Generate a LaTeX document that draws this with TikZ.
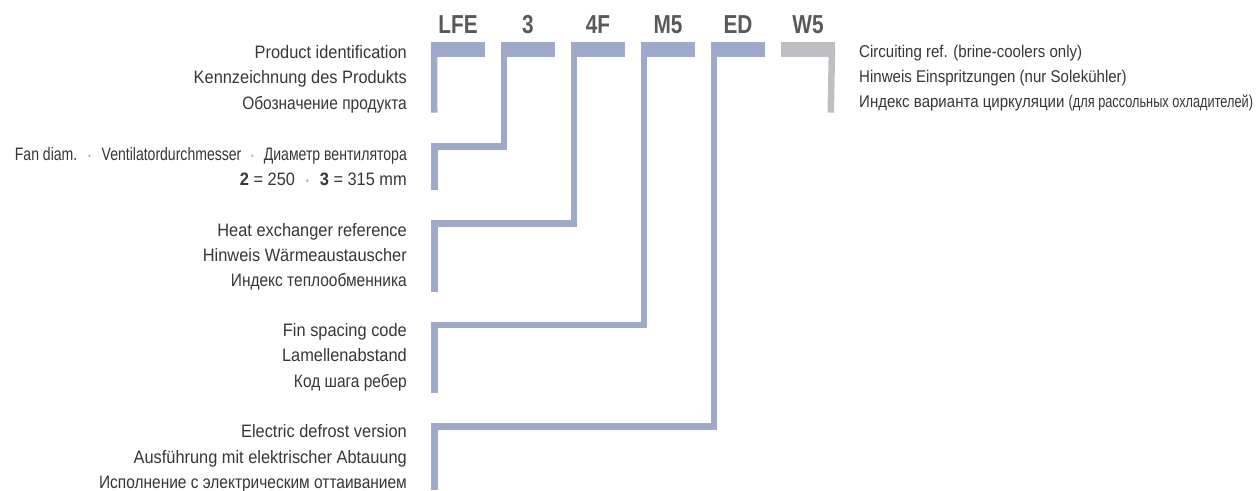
\documentclass[tikz,border=0pt]{standalone}
\usepackage{fontspec}
\setmainfont{Liberation Sans}[FakeStretch=0.91]
\newfontfamily\cyrfont{Liberation Sans}[FakeStretch=0.86]
\newfontfamily\rightfont{Liberation Sans}[FakeStretch=0.885]
\newfontfamily\narrowfont{Liberation Sans}[FakeStretch=0.78]
\newfontfamily\narrowerfont{Liberation Sans}[FakeStretch=0.75]
\newfontfamily\codefont{Liberation Sans}[FakeStretch=0.80]
\definecolor{barblue}{HTML}{9FAACB}
\definecolor{bargrey}{HTML}{BEBFC3}
\definecolor{codegrey}{HTML}{58595B}
\definecolor{txt}{HTML}{363636}
\definecolor{dotgrey}{HTML}{B0B0B0}
\newcommand\sepdot[1][0.5em]{\hspace{#1}{\color{dotgrey}\fontsize{10}{10}\selectfont\raisebox{1pt}{•}}\hspace{#1}}
\tikzset{
  bar/.style={rectangle, inner sep=0pt, minimum width=54pt, minimum height=15.6pt, fill=#1},
  bracketline/.style={draw=#1, line width=6.5pt, line join=miter, line cap=butt},
  code/.style={anchor=base, inner sep=0pt, text=codegrey, font=\codefont\bfseries\fontsize{26}{26}\selectfont},
  descl/.style={anchor=base east, inner sep=0pt, text=txt, font=\fontsize{18}{18}\selectfont},
  cyrl/.style={descl, font=\cyrfont\fontsize{18}{18}\selectfont},
  narrowl/.style={descl, font=\narrowfont\fontsize{18}{18}\selectfont},
  descr/.style={anchor=base west, inner sep=0pt, text=txt, font=\rightfont\fontsize{17}{17}\selectfont}
}
\begin{document}
\begin{tikzpicture}[x=1pt,y=-1pt]
\useasboundingbox (0,0) rectangle (1257,490);
% code letters
\node[code] (cLFE) at (458,33.3) {LFE};
\node[code] (c3)   at (528,33.3) {3};
\node[code] (c4F)  at (598,33.3) {4F};
\node[code] (cM5)  at (668,33.3) {M5};
\node[code] (cED)  at (738,33.3) {ED};
\node[code] (cW5)  at (808,33.3) {W5};
% top bars
\node[bar=barblue] (bLFE) at (458,49.5) {};
\node[bar=barblue] (b3)   at (528,49.5) {};
\node[bar=barblue] (b4F)  at (598,49.5) {};
\node[bar=barblue] (bM5)  at (668,49.5) {};
\node[bar=barblue] (bED)  at (738,49.5) {};
\node[bar=bargrey] (bW5)  at (808,49.5) {};
% corner / end coordinates
\coordinate (eLFE) at (434.25,112.7);
\coordinate (h3)  at (434.25,146.7);  \coordinate (e3)  at (434.25,190);
\coordinate (h4F) at (434.25,223.7);  \coordinate (e4F) at (434.25,291.7);
\coordinate (hM5) at (434.25,325);    \coordinate (eM5) at (434.25,392.7);
\coordinate (hED) at (434.25,426.3);  \coordinate (eED) at (434.25,490);
\coordinate (eW5) at (830.75,112.7);
% connectors
\draw[bracketline=barblue] ([xshift=3.25pt]bLFE.west) -- (eLFE);
\draw[bracketline=barblue] ([xshift=3.25pt]b3.west) |- (h3) -- (e3);
\draw[bracketline=barblue] ([xshift=3.25pt]b4F.west) |- (h4F) -- (e4F);
\draw[bracketline=barblue] ([xshift=3.25pt]bM5.west) |- (hM5) -- (eM5);
\draw[bracketline=barblue] ([xshift=3.25pt]bED.west) |- (hED) -- (eED);
\draw[bracketline=bargrey] ([xshift=-3.25pt]bW5.east) -- (eW5);
% left descriptions
\node[descl] (p1) at (407,58.3) {Product identification};
\node[descl] (p2) at (407,83.7) {Kennzeichnung des Produkts};
\node[cyrl]  (p3) at (407,109) {Обозначение продукта};
\node[narrowl] (f1) at (407,160) {Fan diam.\sepdot[0.6em]Ventilatordurchmesser\sepdot[0.55em]Диаметр вентилятора};
\node[descl] (f2) at (407,185) {\textbf{2} = 250\sepdot[0.6em]\textbf{3} = 315 mm};
\node[descl] (x1) at (407,236) {Heat exchanger reference};
\node[descl] (x2) at (407,261) {Hinweis Wärmeaustauscher};
\node[cyrl]  (x3) at (407,286) {Индекс теплообменника};
\node[descl] (s1) at (407,336.7) {Fin spacing code};
\node[descl] (s2) at (407,361.7) {Lamellenabstand};
\node[cyrl]  (s3) at (407,387) {Код шага ребер};
\node[descl] (d1) at (407,437.3) {Electric defrost version};
\node[descl] (d2) at (407,463) {Ausführung mit elektrischer Abtauung};
\node[cyrl]  (d3) at (407,488.3) {Исполнение с электрическим оттаиванием};
% right descriptions
\node[descr] (r1) at (859,57.5) {Circuiting ref. (brine-coolers only)};
\node[descr] (r2) at (859,82.5) {Hinweis Einspritzungen (nur Solekühler)};
\node[descr] (r3) at (859,107.5) {Индекс варианта циркуляции {\narrowerfont (для рассольных охладителей)}};
\end{tikzpicture}
\end{document}
